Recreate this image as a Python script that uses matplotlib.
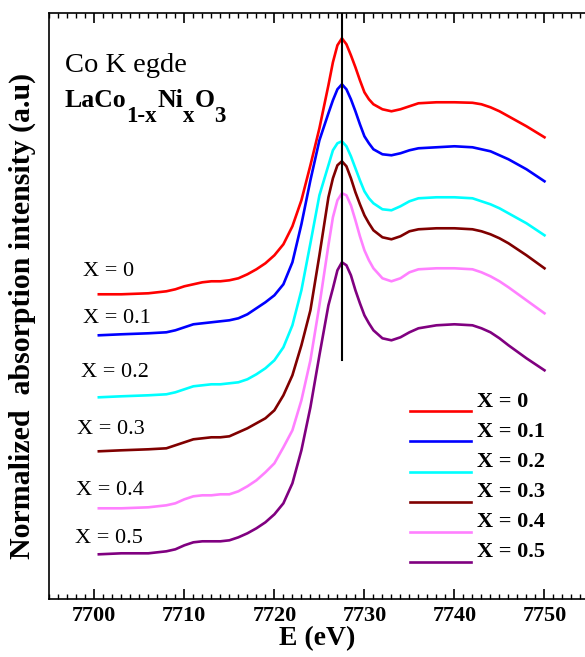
import matplotlib
matplotlib.use("Agg")
import matplotlib.pyplot as plt
from matplotlib.ticker import MultipleLocator, NullLocator

plt.rcParams['font.family'] = ['Liberation Serif', 'DejaVu Serif']

# ---- data (energy in eV, normalized absorption with vertical offsets, a.u.) ----
energy = [7700.5, 7703, 7706, 7708, 7709, 7710, 7711, 7712, 7713, 7714, 7715,
          7716, 7717, 7718, 7719, 7720, 7721, 7722, 7723, 7724, 7725, 7726,
          7726.5, 7727, 7727.5, 7728, 7728.5, 7729, 7729.5, 7730, 7730.5, 7731,
          7732, 7733, 7734, 7735, 7736, 7737, 7738, 7740, 7742, 7743, 7744,
          7745, 7746, 7748, 7750]

x00 = [3.05, 3.05, 3.06, 3.08, 3.10, 3.13, 3.15, 3.17, 3.18, 3.18, 3.19,
       3.21, 3.25, 3.30, 3.36, 3.44, 3.55, 3.73, 3.99, 4.34, 4.71, 5.14,
       5.37, 5.54, 5.61, 5.55, 5.44, 5.32, 5.19, 5.07, 5.00, 4.95,
       4.90, 4.88, 4.90, 4.93, 4.96, 4.965, 4.97, 4.97, 4.965, 4.95, 4.92,
       4.88, 4.83, 4.73, 4.62]
x01 = [2.64, 2.65, 2.66, 2.67, 2.69, 2.72, 2.75, 2.76, 2.77, 2.78, 2.79,
       2.81, 2.85, 2.91, 2.97, 3.04, 3.15, 3.37, 3.75, 4.19, 4.59, 4.86,
       4.99, 5.10, 5.15, 5.10, 5.00, 4.88, 4.75, 4.63, 4.56, 4.50,
       4.45, 4.44, 4.46, 4.49, 4.51, 4.515, 4.52, 4.53, 4.52, 4.50, 4.48,
       4.44, 4.40, 4.30, 4.18]
x02 = [2.02, 2.03, 2.04, 2.05, 2.07, 2.10, 2.13, 2.14, 2.15, 2.15, 2.16,
       2.17, 2.20, 2.25, 2.31, 2.39, 2.52, 2.74, 3.09, 3.56, 4.04, 4.34,
       4.49, 4.56, 4.58, 4.53, 4.43, 4.31, 4.19, 4.08, 4.01, 3.96,
       3.90, 3.89, 3.93, 3.98, 4.01, 4.015, 4.02, 4.02, 4.01, 3.98, 3.95,
       3.91, 3.86, 3.76, 3.64]
x03 = [1.48, 1.49, 1.50, 1.51, 1.54, 1.57, 1.60, 1.61, 1.62, 1.62, 1.63,
       1.67, 1.71, 1.76, 1.81, 1.89, 2.04, 2.24, 2.54, 2.89, 3.44, 4.02,
       4.21, 4.34, 4.38, 4.33, 4.21, 4.07, 3.95, 3.84, 3.76, 3.69,
       3.62, 3.60, 3.63, 3.68, 3.70, 3.705, 3.71, 3.71, 3.70, 3.68, 3.65,
       3.61, 3.56, 3.44, 3.31]
x04 = [0.91, 0.91, 0.92, 0.94, 0.96, 1.00, 1.03, 1.04, 1.04, 1.05, 1.05,
       1.08, 1.13, 1.19, 1.27, 1.36, 1.52, 1.69, 1.99, 2.39, 2.94, 3.54,
       3.82, 3.99, 4.06, 4.04, 3.94, 3.79, 3.63, 3.49, 3.39, 3.31,
       3.21, 3.18, 3.21, 3.27, 3.30, 3.305, 3.31, 3.31, 3.30, 3.27, 3.23,
       3.18, 3.12, 2.99, 2.86]
x05 = [0.45, 0.46, 0.46, 0.48, 0.50, 0.54, 0.57, 0.58, 0.58, 0.58, 0.59,
       0.62, 0.66, 0.71, 0.77, 0.85, 0.96, 1.16, 1.49, 1.92, 2.44, 2.94,
       3.11, 3.29, 3.37, 3.34, 3.24, 3.09, 2.96, 2.84, 2.76, 2.69,
       2.61, 2.59, 2.62, 2.67, 2.71, 2.725, 2.74, 2.75, 2.74, 2.71, 2.67,
       2.61, 2.54, 2.41, 2.29]

series = [x00, x01, x02, x03, x04, x05]
labels = ['X = 0', 'X = 0.1', 'X = 0.2', 'X = 0.3', 'X = 0.4', 'X = 0.5']
colors = ['#ff0000', '#0000ff', '#00ffff', '#800000', '#ff80ff', '#800080']

edge_energy = 7727.5
edge_line_bottom = 2.39

# ---- figure ----
fig = plt.figure(figsize=(5.85, 6.57), dpi=100)
ax = fig.add_axes([0.0843, 0.0878, 0.9157, 0.892])

for y, c in zip(series, colors):
    ax.plot(energy, y, color=c, lw=1.9, solid_joinstyle='round')

YMAX = 5.86
ax.axvline(edge_energy, ymin=edge_line_bottom / YMAX, ymax=1.0, color='black', lw=1.5)

ax.set_xlim(7695, 7754.5)
ax.set_ylim(0, YMAX)

ax.xaxis.set_major_locator(MultipleLocator(10))
ax.xaxis.set_minor_locator(MultipleLocator(1))
ax.yaxis.set_major_locator(NullLocator())
ax.tick_params(axis='x', which='both', direction='in', top=True, bottom=True)
ax.tick_params(axis='x', which='major', length=7, width=1.2, labelsize=16, pad=5)
ax.tick_params(axis='x', which='minor', length=3.5, width=1.0)
for lab in ax.get_xticklabels():
    lab.set_fontweight('bold')
ax.spines['right'].set_visible(False)
for s in ['left', 'top', 'bottom']:
    ax.spines[s].set_linewidth(1.2)

ax.set_xlabel('E (eV)', fontsize=20, fontweight='bold', labelpad=0)
ax.set_ylabel('Normalized  absorption intensity (a.u)', fontsize=21.5,
              fontweight='bold')
ax.yaxis.set_label_coords(-0.024, 0.4834)

ax.text(0.029, 0.90, 'Co K egde', transform=ax.transAxes, fontsize=20.5,
        ha='left', va='baseline')

# chemical formula with large, deeply lowered subscripts
renderer = fig.canvas.get_renderer()
W, H = fig.bbox.width, fig.bbox.height
x_disp, y_disp = ax.transAxes.transform((0.029, 0.840))
pieces = [('LaCo', False), ('1-x', True), ('Ni', False), ('x', True),
          ('O', False), ('3', True)]
for s, sub in pieces:
    t = fig.text(x_disp / W, (y_disp - (14.5 if sub else 0)) / H, s,
                 fontsize=16.5 if sub else 18.5, fontweight='bold',
                 ha='left', va='baseline')
    x_disp = t.get_window_extent(renderer).x1

# curve labels
lab_pos = [(0.0623, 0.551), (0.0635, 0.4715), (0.0586, 0.3788),
           (0.051, 0.2821), (0.0498, 0.178), (0.048, 0.0956)]
for (lx, ly), t in zip(lab_pos, labels):
    ax.text(lx, ly, t, transform=ax.transAxes, fontsize=16, ha='left', va='baseline')

# legend (drawn manually: line below, label above-right)
leg_y = [0.3213, 0.2701, 0.2177, 0.1665, 0.1153, 0.0641]
for ly, t, c in zip(leg_y, labels, colors):
    ax.plot([0.6733, 0.7866], [ly, ly], transform=ax.transAxes, color=c, lw=1.9)
    ax.text(0.799, ly + 0.0074, t, transform=ax.transAxes, fontsize=16,
            fontweight='bold', ha='left', va='baseline')

fig.savefig('out.png', dpi=100)
